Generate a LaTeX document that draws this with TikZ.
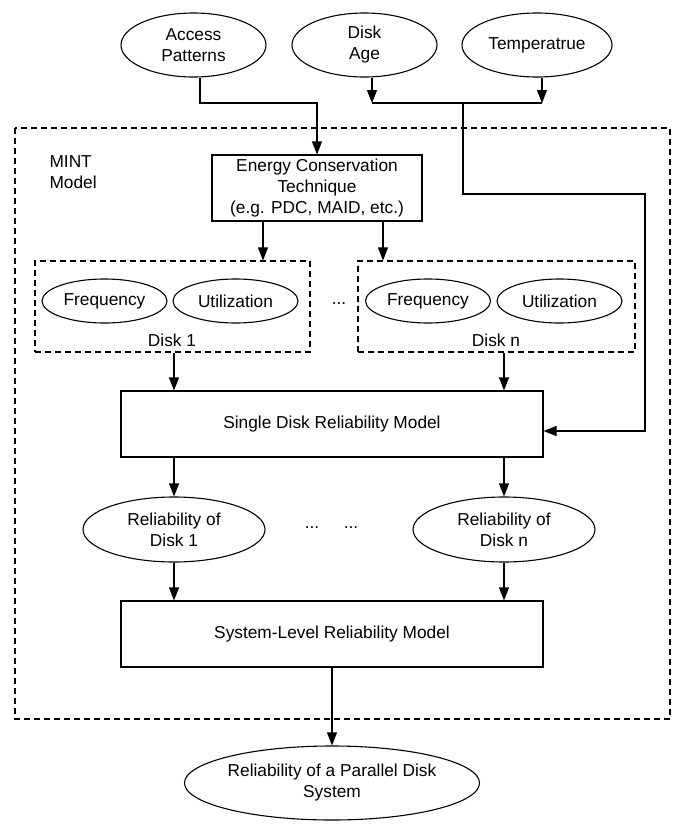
\documentclass[tikz,border=0pt]{standalone}
\usepackage{fontspec}
\setmainfont{Liberation Sans}
\usetikzlibrary{arrows.meta,shapes.geometric}
\begin{document}
\begin{tikzpicture}[x=1pt,y=-1pt,
  every node/.style={font=\fontsize{17.3}{21}\selectfont},
  ell/.style={draw,ellipse,line width=1.1pt,inner sep=0pt,align=center},
  box/.style={draw,rectangle,line width=1.1pt,inner sep=0pt,align=center},
  dbox/.style={draw,rectangle,line width=1.1pt,inner sep=0pt,dash pattern=on 6pt off 4pt},
  arr/.style={line width=1.1pt,-{Triangle[length=13pt,width=10pt]}},
  ln/.style={line width=1.1pt}]
\useasboundingbox (0,0) rectangle (678,825);
% outer dashed frame
\draw[dbox] (15,128) rectangle (670,719);
\node[anchor=west,align=left] (mint) at (46,172) {MINT\\Model};
% top inputs
\node[ell,minimum width=145pt,minimum height=64pt] (ap) at (193.5,45) {Access\\Patterns};
\node[ell,minimum width=145pt,minimum height=64pt] (da) at (364.5,45) {Disk\\Age};
\node[ell,minimum width=150pt,minimum height=64pt] (tp) at (537,45) {Temperatrue};
% energy conservation
\node[box,minimum width=210pt,minimum height=66pt] (ec) at (317,188) {Energy Conservation\\Technique\\(e.g. PDC, MAID, etc.)};
% disk groups
\node[dbox,minimum width=275pt,minimum height=91pt] (d1) at (172.5,306.5) {};
\node[dbox,minimum width=277pt,minimum height=91pt] (dn) at (496.5,306.5) {};
\node[ell,minimum width=125pt,minimum height=44pt] (f1) at (104.5,301) {Frequency};
\node[ell,minimum width=125pt,minimum height=44pt] (u1) at (235.5,301) {Utilization};
\node[ell,minimum width=125pt,minimum height=44pt] (fn) at (428,301) {Frequency};
\node[ell,minimum width=125pt,minimum height=44pt] (un) at (559.5,301) {Utilization};
\node (l1) at (172,340) {Disk 1};
\node (ln) at (496,340) {Disk n};
\node (dots1) at (339,304) {...};
% single disk model
\node[box,minimum width=422pt,minimum height=66pt] (sd) at (332,424) {Single Disk Reliability Model};
% reliability ellipses
\node[ell,minimum width=182pt,minimum height=65pt] (r1) at (174,529.5) {Reliability of\\Disk 1};
\node[ell,minimum width=182pt,minimum height=65pt] (rn) at (504,529.5) {Reliability of\\Disk n};
\node (dots2) at (312,528) {...};
\node (dots3) at (351,528) {...};
% system level
\node[box,minimum width=422pt,minimum height=66pt] (sl) at (332,634) {System-Level Reliability Model};
% final
\node[ell,minimum width=290pt,minimum height=74pt] (fin) at (332,783) {Reliability of a Parallel Disk\\System};
% helper coordinates
\coordinate (xap) at (200,0);
\coordinate (xda) at (372,0);
\coordinate (xtp) at (542,0);
\coordinate (x263) at (263,0);
\coordinate (x383) at (383,0);
\coordinate (xa) at (174,0);
\coordinate (xb) at (504,0);
\coordinate (j0) at (200,103);
\coordinate (j1) at (372,103);
\coordinate (j2) at (542,103);
\coordinate (sp) at (463,103);
\coordinate (c1) at (463,194);
\coordinate (c2) at (645,194);
\coordinate (c3) at (645,431);
% connectors
\draw[arr] (ap.south -| xap) -- (j0) -| (ec.north);
\draw[arr] (da.south -| xda) -- (j1);
\draw[arr] (tp.south -| xtp) -- (j2);
\draw[ln] (j1) -- (j2);
\draw[arr] (sp) -- (c1) -- (c2) -- (c3) -- (c3 -| sd.east);
\draw[arr] (ec.south -| x263) -- (d1.north -| x263);
\draw[arr] (ec.south -| x383) -- (dn.north -| x383);
\draw[arr] (d1.south -| xa) -- (sd.north -| xa);
\draw[arr] (dn.south -| xb) -- (sd.north -| xb);
\draw[arr] (sd.south -| xa) -- (r1.north);
\draw[arr] (sd.south -| xb) -- (rn.north);
\draw[arr] (r1.south) -- (sl.north -| xa);
\draw[arr] (rn.south) -- (sl.north -| xb);
\draw[arr] (sl.south) -- (fin.north);
\end{tikzpicture}
\end{document}
